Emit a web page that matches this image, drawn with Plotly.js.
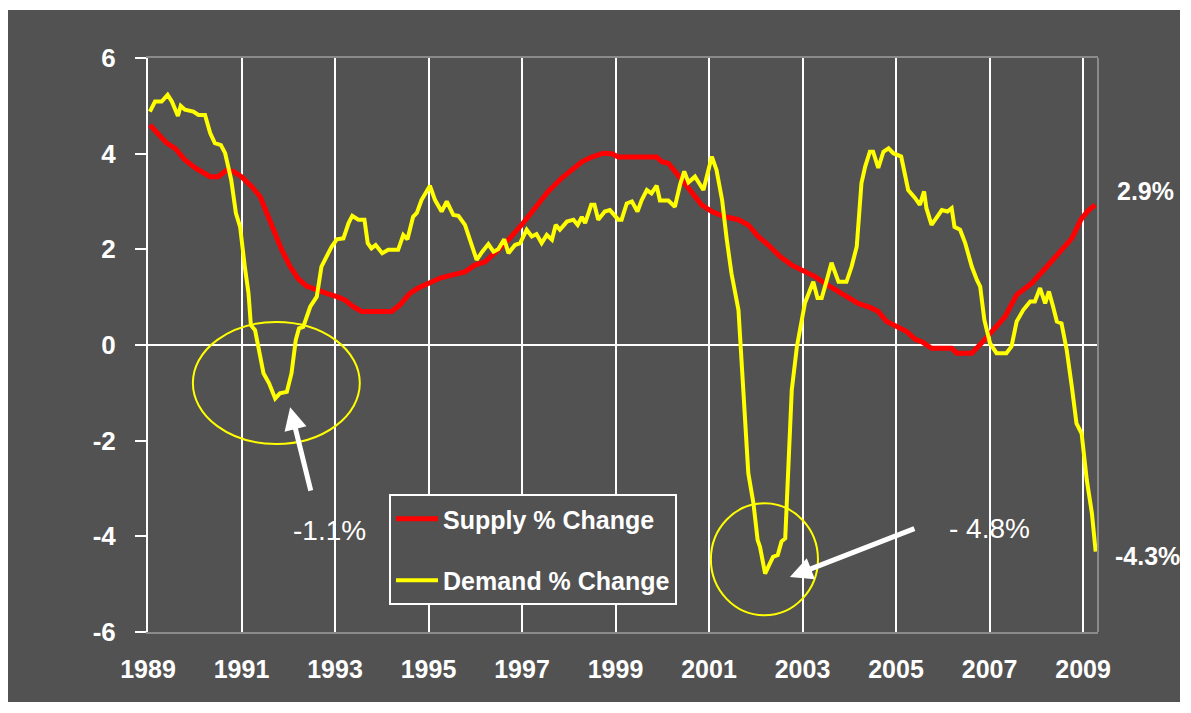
<!DOCTYPE html>
<html>
<head>
<meta charset="utf-8">
<script src="https://cdn.plot.ly/plotly-3.0.1.min.js"></script>
<style>
  html, body { margin: 0; padding: 0; background: #ffffff; }
  #chart { position: absolute; left: 8px; top: 10px; width: 1172px; height: 692px; }
</style>
</head>
<body>
<div id="chart"></div>
<script>
const supplyYears = [
  1989.04, 1989.22, 1989.40, 1989.58, 1989.79, 1990.01, 1990.18, 1990.33, 1990.50, 1990.68,
  1990.82, 1991.00, 1991.22, 1991.40, 1991.54, 1991.72, 1991.86, 1992.04, 1992.21, 1992.39,
  1992.61, 1992.82, 1993.04, 1993.21, 1993.39, 1993.57, 1993.93, 1994.21, 1994.39, 1994.60,
  1994.78, 1995.00, 1995.25, 1995.49, 1995.78, 1995.99, 1996.21, 1996.49, 1996.71, 1996.99,
  1997.28, 1997.56, 1997.85, 1998.06, 1998.28, 1998.49, 1998.74, 1998.92, 1999.06, 1999.88,
  1999.99, 2000.13, 2000.34, 2000.56, 2000.84, 2001.06, 2001.34, 2001.63, 2001.84, 2002.05,
  2002.27, 2002.52, 2002.77, 2003.05, 2003.27, 2003.52, 2003.77, 2003.98, 2004.19, 2004.48,
  2004.62, 2004.80, 2005.01, 2005.23, 2005.41, 2005.55, 2005.76, 2006.19, 2006.30, 2006.62,
  2006.83, 2007.05, 2007.33, 2007.58, 2007.76, 2007.90, 2008.19, 2008.47, 2008.76, 2008.96,
  2009.10, 2009.26
];
const supplyValues = [
  4.60, 4.39, 4.22, 4.11, 3.87, 3.70, 3.59, 3.52, 3.52, 3.65,
  3.63, 3.52, 3.31, 3.10, 2.76, 2.34, 1.99, 1.64, 1.39, 1.23,
  1.14, 1.08, 1.01, 0.94, 0.80, 0.70, 0.70, 0.70, 0.84, 1.08,
  1.19, 1.29, 1.40, 1.46, 1.53, 1.67, 1.74, 1.99, 2.20, 2.51,
  2.86, 3.21, 3.49, 3.66, 3.83, 3.93, 4.01, 4.00, 3.93, 3.93,
  3.83, 3.80, 3.56, 3.28, 2.93, 2.79, 2.68, 2.62, 2.51, 2.27,
  2.09, 1.85, 1.67, 1.53, 1.43, 1.26, 1.12, 0.98, 0.87, 0.77,
  0.70, 0.49, 0.38, 0.28, 0.12, 0.07, -0.07, -0.07, -0.17, -0.17,
  0.04, 0.28, 0.59, 1.05, 1.19, 1.29, 1.60, 1.92, 2.23, 2.63,
  2.80, 2.93
];
const demandYears = [
  1989.04, 1989.15, 1989.29, 1989.42, 1989.51, 1989.64, 1989.70, 1989.79, 1989.97, 1990.08,
  1990.22, 1990.33, 1990.43, 1990.56, 1990.65, 1990.78, 1990.88, 1990.97, 1991.07, 1991.15,
  1991.20, 1991.29, 1991.40, 1991.47, 1991.59, 1991.72, 1991.82, 1991.97, 1992.07, 1992.16,
  1992.23, 1992.32, 1992.47, 1992.61, 1992.71, 1992.82, 1992.93, 1993.04, 1993.18, 1993.29,
  1993.37, 1993.50, 1993.63, 1993.70, 1993.78, 1993.87, 1994.01, 1994.14, 1994.35, 1994.46,
  1994.55, 1994.67, 1994.75, 1994.85, 1995.03, 1995.14, 1995.28, 1995.39, 1995.53, 1995.64,
  1995.78, 1995.91, 1996.03, 1996.15, 1996.28, 1996.39, 1996.49, 1996.62, 1996.71, 1996.85,
  1996.96, 1997.10, 1997.21, 1997.31, 1997.42, 1997.53, 1997.64, 1997.72, 1997.81, 1997.96,
  1998.10, 1998.19, 1998.28, 1998.35, 1998.48, 1998.55, 1998.63, 1998.77, 1998.88, 1999.06,
  1999.13, 1999.24, 1999.35, 1999.47, 1999.56, 1999.67, 1999.77, 1999.88, 1999.95, 2000.13,
  2000.27, 2000.38, 2000.47, 2000.56, 2000.70, 2000.88, 2000.95, 2001.06, 2001.16, 2001.28,
  2001.38, 2001.48, 2001.63, 2001.66, 2001.70, 2001.77, 2001.84, 2001.95, 2002.04, 2002.09,
  2002.20, 2002.30, 2002.37, 2002.47, 2002.55, 2002.63, 2002.66, 2002.70, 2002.77, 2002.88,
  2002.95, 2003.05, 2003.16, 2003.23, 2003.32, 2003.41, 2003.52, 2003.62, 2003.77, 2003.94,
  2004.05, 2004.16, 2004.26, 2004.34, 2004.44, 2004.51, 2004.62, 2004.73, 2004.84, 2004.94,
  2005.11, 2005.18, 2005.26, 2005.41, 2005.51, 2005.60, 2005.65, 2005.76, 2005.87, 2005.98,
  2006.10, 2006.19, 2006.25, 2006.37, 2006.48, 2006.62, 2006.73, 2006.80, 2006.89, 2007.01,
  2007.15, 2007.36, 2007.47, 2007.58, 2007.72, 2007.87, 2007.97, 2008.08, 2008.19, 2008.27,
  2008.36, 2008.44, 2008.54, 2008.65, 2008.76, 2008.86, 2008.97, 2009.08, 2009.19, 2009.27
];
const demandValues = [
  4.88, 5.09, 5.09, 5.23, 5.09, 4.79, 5.00, 4.92, 4.88, 4.81,
  4.81, 4.43, 4.22, 4.18, 4.01, 3.45, 2.76, 2.47, 1.64, 1.08,
  0.42, 0.31, -0.24, -0.59, -0.80, -1.12, -1.01, -0.98, -0.59, 0.10,
  0.35, 0.38, 0.80, 1.01, 1.64, 1.85, 2.06, 2.21, 2.23, 2.55,
  2.70, 2.62, 2.62, 2.13, 2.02, 2.09, 1.92, 1.99, 1.99, 2.30,
  2.21, 2.68, 2.76, 3.03, 3.33, 3.03, 2.79, 3.00, 2.72, 2.70,
  2.51, 2.13, 1.78, 1.95, 2.11, 1.95, 2.00, 2.21, 1.92, 2.09,
  2.13, 2.41, 2.27, 2.32, 2.13, 2.30, 2.20, 2.51, 2.41, 2.58,
  2.62, 2.51, 2.68, 2.55, 2.93, 2.93, 2.62, 2.79, 2.82, 2.62,
  2.62, 2.96, 3.00, 2.79, 3.03, 3.24, 3.17, 3.33, 3.02, 3.02,
  2.89, 3.35, 3.63, 3.40, 3.52, 3.24, 3.52, 3.94, 3.66, 3.03,
  2.20, 1.50, 0.73, 0.24, -0.73, -1.78, -2.68, -3.31, -4.08, -4.22,
  -4.78, -4.57, -4.43, -4.39, -4.11, -4.04, -3.38, -2.13, -0.94, -0.03,
  0.38, 0.87, 1.15, 1.32, 0.98, 0.98, 1.36, 1.72, 1.32, 1.32,
  1.64, 2.06, 3.38, 3.73, 4.04, 4.04, 3.70, 4.04, 4.11, 4.01,
  3.94, 3.59, 3.24, 3.07, 2.93, 3.21, 2.86, 2.51, 2.68, 2.82,
  2.79, 2.86, 2.47, 2.41, 2.13, 1.64, 1.36, 1.22, 0.52, 0.04,
  -0.17, -0.17, -0.03, 0.49, 0.73, 0.91, 0.91, 1.19, 0.87, 1.12,
  0.80, 0.49, 0.45, -0.10, -0.87, -1.64, -1.85, -2.82, -3.52, -4.32
];
const seriesNames = ["Supply % Change", "Demand % Change"];
const yTickValues = [-6, -4, -2, 0, 2, 4, 6];
const xTickValues = [1989, 1991, 1993, 1995, 1997, 1999, 2001, 2003, 2005, 2007, 2009];

const sans = "'Liberation Sans', Arial, sans-serif";
const panel = "#525252";

const traces = [
  { x: supplyYears, y: supplyValues, name: seriesNames[0], type: "scatter", mode: "lines",
    line: { color: "#ff0000", width: 5 }, legendgroup: "a" },
  { x: demandYears, y: demandValues, name: seriesNames[1], type: "scatter", mode: "lines",
    line: { color: "#ffff00", width: 4 }, legendgroup: "b" }
];

const layout = {
  width: 1172, height: 692,
  margin: { l: 140, r: 82, t: 48, b: 70 },
  paper_bgcolor: panel, plot_bgcolor: panel,
  showlegend: true,
  legend: {
    x: 0.2537, y: 0.2404, xanchor: "left", yanchor: "top",
    bgcolor: panel, bordercolor: "#ffffff", borderwidth: 2,
    font: { family: sans, size: 25, color: "#ffffff", weight: "bold" },
    tracegroupgap: 26, itemwidth: 42
  },
  xaxis: {
    range: [1989, 2009.32], tickvals: xTickValues, ticktext: xTickValues.map(String),
    showgrid: true, gridcolor: "#ffffff", gridwidth: 1.5,
    showline: true, linecolor: "#8a8a8a", linewidth: 2, mirror: true,
    ticks: "", ticklabelstandoff: 14, zeroline: false,
    tickfont: { family: sans, size: 25, color: "#ffffff", weight: "bold" }
  },
  yaxis: {
    range: [-6, 6], tickvals: yTickValues, ticktext: yTickValues.map(String),
    showgrid: false, zeroline: true, zerolinecolor: "#ffffff", zerolinewidth: 2,
    showline: true, linecolor: "#ffffff", linewidth: 2,
    ticks: "outside", ticklen: 11, tickwidth: 2, tickcolor: "#ffffff",
    ticklabelstandoff: 14,
    tickfont: { family: sans, size: 26, color: "#ffffff", weight: "bold" }
  },
  shapes: [
    { type: "line", xref: "paper", yref: "paper", x0: 1, x1: 1, y0: 0, y1: 1,
      line: { color: "#8a8a8a", width: 2 } },
    { type: "circle", xref: "x", yref: "y", x0: 1989.96, x1: 1993.53, y0: -2.07, y1: 0.48,
      line: { color: "#ffff00", width: 2 }, layer: "above" },
    { type: "circle", xref: "x", yref: "y", x0: 2001.04, x1: 2003.33, y0: -5.65, y1: -3.31,
      line: { color: "#ffff00", width: 2 }, layer: "above" }
  ],
  annotations: [
    { x: 1992.04, y: -1.30, ax: 21, ay: 85, text: "", showarrow: true,
      arrowhead: 2, arrowsize: 0.9, arrowwidth: 5, arrowcolor: "#ffffff" },
    { x: 2002.73, y: -4.85, ax: 126, ay: -49, text: "", showarrow: true,
      arrowhead: 2, arrowsize: 0.9, arrowwidth: 5, arrowcolor: "#ffffff" },
    { x: 1992.89, y: -3.87, text: "-1.1%", showarrow: false, xanchor: "center", yanchor: "middle",
      font: { family: sans, size: 28, color: "#ffffff" } },
    { x: 2006.99, y: -3.83, text: "- 4.8%", showarrow: false, xanchor: "center", yanchor: "middle",
      font: { family: sans, size: 28, color: "#ffffff" } },
    { xref: "paper", x: 1.018, y: 3.22, text: "2.9%", showarrow: false, xanchor: "left", yanchor: "middle",
      font: { family: sans, size: 25, color: "#ffffff", weight: "bold" } },
    { xref: "paper", x: 1.016, y: -4.41, text: "-4.3%", showarrow: false, xanchor: "left", yanchor: "middle",
      font: { family: sans, size: 25, color: "#ffffff", weight: "bold" } }
  ]
};

Plotly.newPlot("chart", traces, layout, { displayModeBar: false, responsive: false });
</script>
</body>
</html>
